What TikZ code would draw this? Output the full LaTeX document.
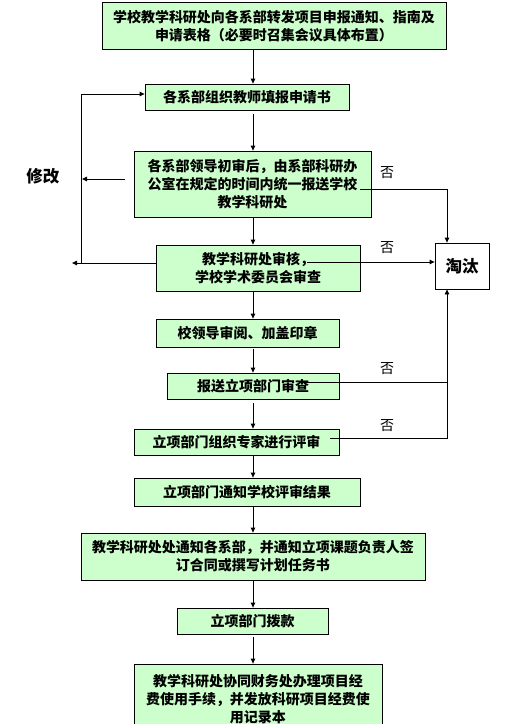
\documentclass[tikz,border=0pt]{standalone}
\usepackage{fontspec}
\newfontfamily\cjk{Noto Sans CJK SC}
\usetikzlibrary{arrows.meta}
\definecolor{boxgreen}{HTML}{CCFFCC}
\begin{document}
\begin{tikzpicture}[x=1pt,y=-1pt,
  font=\cjk\bfseries\fontsize{14}{18}\selectfont,
  box/.style={draw=black, line width=0.8pt, fill=boxgreen, inner sep=0pt, align=center},
  arr/.style={-{Triangle[length=5pt,width=4.5pt]}, line width=0.8pt},
  ln/.style={line width=0.8pt},
  biglabel/.style={font=\cjk\bfseries\fontsize{16.5}{20}\selectfont},
  nolabel/.style={font=\cjk\fontsize{14}{18}\selectfont}]
\fill[white] (0,0) rectangle (518,724);
\useasboundingbox (0,0) rectangle (518,724);

\node[box, minimum width=344, minimum height=47] (b1) at (274,26) {学校教学科研处向各系部转发项目申报通知、指南及\\申请表格（必要时召集会议具体布置）};
\node[box, minimum width=204, minimum height=26] (b2) at (247,97) {各系部组织教师填报申请书};
\node[box, minimum width=237, minimum height=66] (b3) at (252.5,184) {各系部领导初审后，由系部科研办\\公室在规定的时间内统一报送学校\\教学科研处};
\node[box, minimum width=204, minimum height=46] (b4) at (258,268) {教学科研处审核，\\学校学术委员会审查};
\node[box, biglabel, fill=white, minimum width=54, minimum height=46] (t) at (462,266) {淘汰};
\node[box, minimum width=183, minimum height=28] (b5) at (247.5,333) {校领导审阅、加盖印章};
\node[box, minimum width=172, minimum height=26] (b6) at (253,386) {报送立项部门审查};
\node[box, minimum width=205, minimum height=26] (b7) at (236.5,442) {立项部门组织专家进行评审};
\node[box, minimum width=226, minimum height=28] (b8) at (247,492) {立项部门通知学校评审结果};
\node[box, minimum width=344, minimum height=47] (b9) at (253,556.5) {教学科研处处通知各系部，并通知立项课题负责人签\\订合同或撰写计划任务书};
\node[box, minimum width=151, minimum height=26] (b10) at (252.5,621) {立项部门拨款};
\node[box, minimum width=248, minimum height=70] (b11) at (258,699) {教学科研处协同财务处办理项目经\\费使用手续，并发放科研项目经费使\\用记录本};

\node[biglabel] (xg) at (43,176) {修改};
\node[nolabel] (n1) at (387,173) {否};
\node[nolabel] (n2) at (387,248) {否};
\node[nolabel] (n3) at (387,369) {否};
\node[nolabel] (n4) at (387,426) {否};

\coordinate (sp) at (253,0);
\coordinate (R) at (447,0);

\draw[arr] (b1.south -| sp) -- (b2.north -| sp);
\draw[arr, shorten <=4pt] (b2.south -| sp) -- (b3.north -| sp);
\draw[arr] (b3.south -| sp) -- (b4.north -| sp);
\draw[arr] (b4.south -| sp) -- (b5.north -| sp);
\draw[arr, shorten <=2pt] (b5.south -| sp) -- (b6.north -| sp);
\draw[arr, shorten <=4pt] (b6.south -| sp) -- (b7.north -| sp);
\draw[arr] (b7.south -| sp) -- (b8.north -| sp);
\draw[arr] (b8.south -| sp) -- (b9.north -| sp);
\draw[arr] (b9.south -| sp) -- (b10.north -| sp);
\draw[arr, shorten <=3pt] (b10.south -| sp) -- (b11.north -| sp);

% left feedback
\coordinate (lout) at (72,263);
\coordinate (lb) at (81,263);
\coordinate (lt) at (81,94);
\draw[arr] ([yshift=5pt]b4.west) -- (lout);
\draw[arr] (lb) -- (lt) -- ([yshift=3pt]b2.west);
\coordinate (c3l) at (125,179);
\coordinate (c3e) at (82,179);
\draw[arr] (c3l) -- (c3e);

% right rejection
\coordinate (o3) at (360,189);
\coordinate (o4) at (307,262);
\coordinate (o6) at (300,382);
\coordinate (o7) at (330,438);
\draw[arr] (o3) -- (o3 -| R) -- (t.north -| R);
\draw[arr] (o4) -- (o4 -| t.west);
\draw[ln] (o6) -- (o6 -| R);
\draw[arr] (o7) -- (o7 -| R) -- (t.south -| R);
\end{tikzpicture}
\end{document}
